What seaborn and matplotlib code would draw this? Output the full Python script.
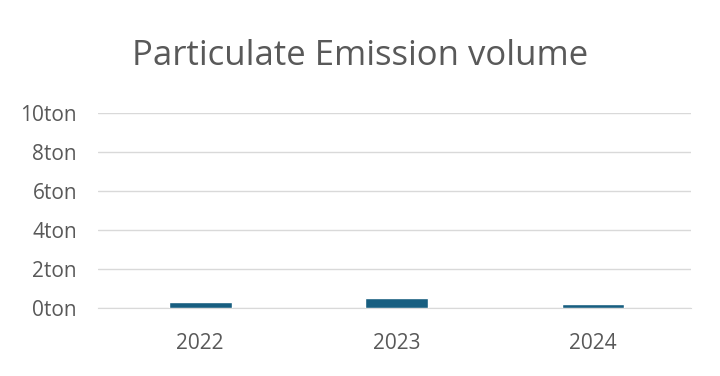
import matplotlib.pyplot as plt
import seaborn as sns
import pandas as pd

years = ['2022', '2023', '2024']
emission = [0.3, 0.5, 0.18]
yticks = [0, 2, 4, 6, 8, 10]

sns.set_style('white')
plt.rcParams['font.family'] = ['Open Sans', 'DejaVu Sans']

df = pd.DataFrame({'year': years, 'ton': emission})

fig = plt.figure(figsize=(7.2, 3.76), dpi=100)
ax = fig.add_axes([0.136, 0.181, 0.824, 0.518])
sns.barplot(data=df, x='year', y='ton', color='#175e80', width=0.32,
            saturation=1, ax=ax, zorder=3)

ax.set_xlim(-0.52, 2.5)
ax.set_ylim(0, 10)
ax.set_yticks(yticks)
ax.set_yticklabels([f'{v}ton' for v in yticks])
ax.grid(axis='y', color='#d9d9d9', linewidth=1, zorder=0)
for s in ['top', 'right', 'left']:
    ax.spines[s].set_visible(False)
ax.spines['bottom'].set_color('#d9d9d9')
ax.tick_params(axis='both', length=0, labelsize=15, colors='#595959')
ax.tick_params(axis='y', pad=15)
ax.tick_params(axis='x', pad=18)
ax.set_xlabel('')
ax.set_ylabel('')
fig.text(0.5, 0.851, 'Particulate Emission volume', ha='center', va='center',
         fontsize=25, color='#595959')

fig.savefig('out.png', dpi=100)
